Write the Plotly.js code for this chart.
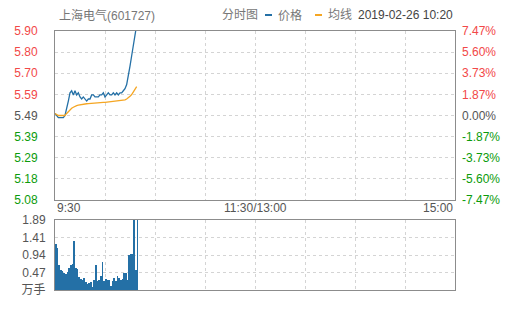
<!DOCTYPE html>
<html>
<head>
<meta charset="utf-8">
<script src="https://cdn.plot.ly/plotly-3.0.1.min.js"></script>
<style>html,body{margin:0;padding:0;background:#fff;}#chart{width:505px;height:310px;}</style>
</head>
<body>
<div id="chart"></div>
<script>
// minutes after 9:30
const minutes = [0,1,2,3,4,5,6,7,8,9,10,11,12,13,14,15,16,17,18,19,20,21,22,23,24,25,26,27,28,29,30,31,32,33,34,35,36,37,38,39,40,41,42,43,44,45,46,47,48,49];
const price = [5.50,5.49,5.48,5.48,5.48,5.48,5.49,5.52,5.56,5.60,5.61,5.59,5.61,5.59,5.60,5.58,5.57,5.58,5.57,5.56,5.57,5.57,5.59,5.59,5.58,5.58,5.58,5.59,5.59,5.60,5.58,5.59,5.60,5.59,5.59,5.60,5.59,5.60,5.59,5.60,5.60,5.61,5.62,5.64,5.68,5.73,5.78,5.83,5.87,5.93];
const avgPrice = [5.50,5.495,5.49,5.49,5.49,5.49,5.49,5.50,5.51,5.52,5.525,5.53,5.535,5.538,5.54,5.542,5.544,5.545,5.546,5.547,5.548,5.549,5.55,5.55,5.551,5.552,5.552,5.553,5.553,5.554,5.554,5.555,5.556,5.556,5.557,5.558,5.558,5.559,5.56,5.561,5.562,5.564,5.566,5.57,5.575,5.583,5.592,5.603,5.615,5.63];
const volume = [1.23,1.14,0.68,0.54,0.50,0.45,0.42,0.48,0.60,0.68,0.70,1.32,0.60,0.58,0.34,0.31,0.28,0.33,0.21,0.15,0.18,0.22,0.09,0.26,0.67,0.25,0.26,0.39,0.75,0.25,0.29,0.26,0.26,0.12,0.24,0.33,0.24,0.39,0.33,0.28,0.31,0.45,0.45,0.28,0.95,0.97,0.97,2.2,0.54,2.2];

const priceLabels = ['5.08','5.18','5.29','5.39','5.49','5.59','5.70','5.80','5.90'];
const pctLabels = ['-7.47%','-5.60%','-3.73%','-1.87%','0.00%','1.87%','3.73%','5.60%','7.47%'];
const volLabels = ['万手','0.47','0.94','1.41','1.89'];
const volTicks = [0,0.47,0.94,1.41,1.89];
const timeTicks = [0,30,60,90,120,150,180,210,240];
const timeLabels = ['9:30','11:30/13:00','15:00'];
const timeLabelPos = [0,120,240];

const stockName = '上海电气(601727)';
const chartName = '分时图';
const legendNames = ['价格','均线'];
const dateText = '2019-02-26 10:20';

const RED = '#f24848', GREEN = '#0b9b0b', GRAY = '#555';
const BLUE = '#2470a6', ORANGE = '#f5a623';
const FONT = 'Liberation Sans, Arial, Noto Sans CJK SC, sans-serif';

const pMin = parseFloat(priceLabels[0]), pMax = parseFloat(priceLabels[priceLabels.length-1]);
const step = (pMax - pMin) / (priceLabels.length - 1);
const priceTickVals = priceLabels.map((_, i) => pMin + i*step);
const pctMax = parseFloat(pctLabels[pctLabels.length-1]);
const pctStep = 2*pctMax/(pctLabels.length-1);
const pctTickVals = pctLabels.map((_, i) => -pctMax + i*pctStep);
const mid = (priceLabels.length - 1) / 2;
const colorFor = (i) => i > mid ? RED : (i < mid ? GREEN : GRAY);
const priceTickText = priceLabels.map((t, i) => `<span style="color:${colorFor(i)}">${t}</span>`);
const pctTickText = pctLabels.map((t, i) => `<span style="color:${colorFor(i)}">${t}</span>`);

const traces = [
  {x: minutes, y: price, type: 'scatter', mode: 'lines', line: {color: BLUE, width: 1.3}, xaxis: 'x', yaxis: 'y', hoverinfo: 'skip'},
  {x: minutes, y: avgPrice, type: 'scatter', mode: 'lines', line: {color: ORANGE, width: 1.3}, xaxis: 'x', yaxis: 'y', hoverinfo: 'skip'},
  {x: [minutes[0]], y: [null], type: 'scatter', mode: 'lines', xaxis: 'x', yaxis: 'y2', hoverinfo: 'skip'},
  {x: minutes, y: volume, type: 'bar', marker: {color: BLUE, line: {width: 0}}, width: 1, offset: 0, xaxis: 'x2', yaxis: 'y3', hoverinfo: 'skip'}
];

const gridStyle = {showgrid: true, gridcolor: '#d4d4d4', griddash: '3px,3px', gridwidth: 1};
const lineStyle = {showline: true, linecolor: '#8c8c8c', linewidth: 1, mirror: true, zeroline: false};

const annotations = [];
timeLabels.forEach((t, i) => {
  annotations.push({text: t, x: timeLabelPos[i], xref: 'x', y: 0, yref: 'y domain', yanchor: 'top', yshift: 1,
    xanchor: i === 0 ? 'left' : (i === timeLabels.length-1 ? 'right' : 'center'), showarrow: false,
    font: {family: FONT, size: 12, color: GRAY}});
});
const hdrFont = {family: FONT, size: 12, color: '#777'};
const hdr = (text, x, xanchor, font) => ({text, xref: 'paper', x, xanchor, yref: 'y domain', y: 1, yanchor: 'middle', yshift: 16, showarrow: false, font});
annotations.push(hdr(stockName, 0.005, 'left', hdrFont));
annotations.push(hdr(chartName, 0.4125, 'left', hdrFont));
annotations.push(hdr(legendNames[0], 0.5525, 'left', hdrFont));
annotations.push(hdr(legendNames[1], 0.6775, 'left', hdrFont));
annotations.push(hdr(dateText, 1, 'right', {family: FONT, size: 12, color: '#444'}));

const shapes = [
  {type: 'line', xref: 'paper', yref: 'paper', x0: 0.525, x1: 0.5425, y0: 1.0618, y1: 1.0618, line: {color: BLUE, width: 2}},
  {type: 'line', xref: 'paper', yref: 'paper', x0: 0.65, x1: 0.6675, y0: 1.0618, y1: 1.0618, line: {color: ORANGE, width: 2}}
];

const layout = {
  width: 505, height: 310,
  margin: {l: 55, r: 50, t: 31, b: 20, pad: 0},
  paper_bgcolor: '#fff', plot_bgcolor: '#fff',
  showlegend: false,
  font: {family: FONT, size: 12, color: GRAY},
  xaxis: Object.assign({domain: [0, 1], range: [0, 240], tickvals: timeTicks, showticklabels: false, ticks: '', anchor: 'y'}, gridStyle, lineStyle),
  yaxis: Object.assign({domain: [0.3475, 1], range: [pMin, pMax], tickvals: priceTickVals, ticktext: priceTickText, ticks: '', ticklabelstandoff: 14, tickfont: {family: FONT, size: 12}}, gridStyle, lineStyle),
  yaxis2: {overlaying: 'y', side: 'right', range: [-pctMax, pctMax], tickvals: pctTickVals, ticktext: pctTickText, showgrid: false, zeroline: false, ticks: '', ticklabelstandoff: 6, tickfont: {family: FONT, size: 12}, anchor: 'x'},
  xaxis2: Object.assign({domain: [0, 1], range: [0, 240], tickvals: timeTicks, showticklabels: false, ticks: '', anchor: 'y3'}, gridStyle, lineStyle),
  yaxis3: Object.assign({domain: [0, 0.2703], range: [0, volTicks[volTicks.length-1]], tickvals: volTicks, ticktext: volLabels, ticks: '', ticklabelstandoff: 6, tickfont: {family: FONT, size: 12, color: GRAY}, anchor: 'x2'}, gridStyle, lineStyle),
  bargap: 0,
  annotations: annotations,
  shapes: shapes
};

Plotly.newPlot('chart', traces, layout, {staticPlot: true, displayModeBar: false});
</script>
</body>
</html>
